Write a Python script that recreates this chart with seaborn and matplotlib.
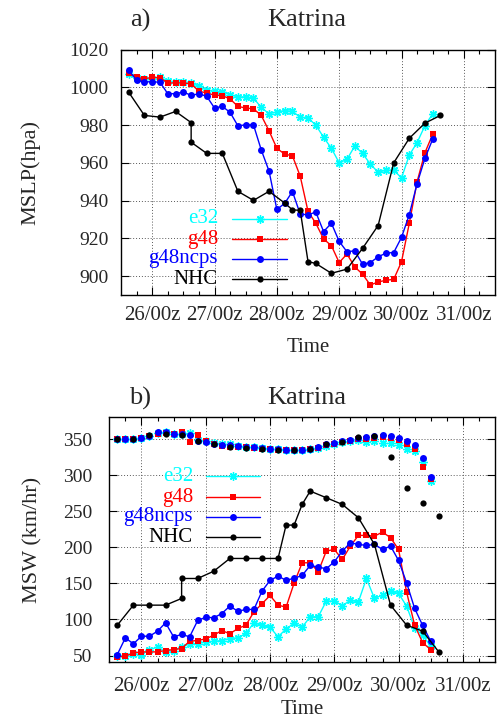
import numpy as np
import pandas as pd
import matplotlib
matplotlib.use("Agg")
import matplotlib.pyplot as plt
import seaborn as sns

# ---------------- data (hours relative to 26/00z) ----------------
model_hours = list(range(-9, 111, 3))            # 25/15z .. 30/12z, 3-hourly (40 points)
nhc_hours = [-9, -3, 3, 9, 15, 15, 21, 27, 33, 39, 45, 51, 54, 57, 60, 63,
             69, 75, 81, 87, 93, 99, 105, 111]
nhc_dot_hours = list(range(-9, 114, 6))          # 6-hourly points (21 points)

tick_hours = [0, 24, 48, 72, 96, 120]
tick_labels = ["26/00z", "27/00z", "28/00z", "29/00z", "30/00z", "31/00z"]

# MSLP (hPa)
e32_mslp = [1007, 1005, 1004.5, 1004.5, 1005.3, 1003.2, 1003, 1003, 1002.3, 1000.5,
            998.4, 997.9, 997.5, 996.1, 994.9, 994.9, 994.3, 989.3, 986, 986.9,
            987.7, 987.2, 984.2, 983.7, 980, 973.5, 967.7, 960, 961.8, 968.9,
            965, 959.3, 955, 956.1, 956.1, 952, 964.1, 970.7, 979.6, 986]
g48_mslp = [1007.7, 1005.3, 1004.5, 1005.3, 1005, 1002.3, 1002.3, 1002.3, 1001.8, 997.9,
            997, 995.8, 995.6, 993.8, 989.9, 989, 988.6, 985.1, 976.9, 967.7,
            964.6, 963.7, 952.9, 934.3, 928, 919.7, 916.1, 907.2, 911.7, 904.9,
            901, 895.3, 896.9, 897.8, 898.3, 907.6, 928, 950, 965.3, 975.1]
g48ncps_mslp = [1008.9, 1003.7, 1002.9, 1002.9, 1002.7, 996.6, 996.6, 997.5, 995.7, 996.6,
                995.2, 989, 989.9, 986.7, 979.6, 980.1, 980.1, 966.8, 955.6, 935.3,
                938.5, 944.8, 932.8, 932.5, 933.9, 923.6, 928, 918.4, 912.9, 913.4,
                906.3, 907.2, 910.2, 912.2, 912.5, 920.5, 932.6, 949, 962.3, 972.5]
nhc_mslp = [997.3, 985.1, 984.2, 987.2, 981.3, 970.9, 965, 965, 944.9, 940.1,
            944.9, 938.7, 935.1, 934.8, 907.7, 906.7, 901.5, 903.7, 914.7, 926.8,
            960, 973, 981, 985.1]

# MSW (km/hr) - lines
e32_msw = [50, 50, 52.7, 51, 58.3, 61.6, 55.5, 56.9, 62, 66.2,
           66.6, 69, 69.5, 70.8, 73.6, 74.5, 80.6, 95.4, 91.7, 89.3,
           76, 86.8, 94.9, 89.3, 103.7, 103.7, 125.5, 125.5, 119.4, 126.4,
           124.5, 156.9, 129.2, 133.8, 139.3, 136.1, 118.5, 88.4, 77.8, 62.9]
g48_msw = [48.2, 49, 53.7, 55, 55, 55, 56.9, 58.3, 59.7, 69.9,
           70.8, 73.1, 78.2, 84.7, 80.1, 87.5, 92.1, 110.6, 121.8, 133.3,
           119.9, 117.1, 150.5, 178.7, 178.7, 166.2, 194.9, 197.2, 183.3, 201.9,
           216.7, 216.7, 215.7, 221.3, 213.5, 197.2, 137.9, 92.1, 67.6, 58.3]
g48ncps_msw = [51.4, 74.5, 66.2, 76.8, 76.8, 83.8, 95.4, 76, 79.2, 76,
               98.6, 103.2, 102.3, 108.3, 118.5, 111.5, 113.9, 113.9, 139.3, 154.2,
               160.2, 154.4, 157.2, 161.1, 175, 172.7, 170.4, 180.1, 194.9, 206.5,
               204.2, 202.8, 204.2, 197.2, 201.9, 181.9, 150.9, 115.3, 91.7, 69.9]
nhc_msw = [92.1, 119.9, 119.9, 119.9, 129.2, 156.9, 156.9, 167, 184.7, 184.7,
           184.7, 184.7, 231, 231, 259.7, 278.2, 269, 259.7, 241.2, 204.2,
           119.9, 92.1, 83.8, 55]

# upper point-only series in panel b
e32_pts = [351, 351, 351, 352, 355, 359, 360, 358, 357, 359,
           349, 348, 345, 344, 344, 341, 339, 339, 338, 337,
           336, 335, 335, 335, 336, 338, 341, 343, 346, 348,
           349, 347, 347.6, 345.4, 345.4, 341.7, 337, 333.8, 318, 292.7]
g48_pts = [350, 351, 351, 352, 355, 358, 359, 357, 360, 346,
           355.6, 348, 344, 341, 340, 340, 339, 338, 337, 336,
           335, 334.7, 334.7, 335, 336, 338, 342, 344, 346, 348,
           350, 351, 352, 353, 352, 349, 343, 337, 311.6, 295]
g48ncps_pts = [351, 351, 351, 352, 355, 360, 360, 358, 358, 356,
               348, 347, 344, 342, 342, 341, 340, 339, 338, 337,
               336, 335, 335, 335, 337, 339, 343, 345, 347.5, 349.5,
               351.5, 353, 354.6, 356, 354.6, 351.4, 347.6, 341.7, 324.5, 297.7]
nhc_pts = [351, 351, 355.5, 358, 356, 348, 343, 340, 338, 337,
           335, 335, 337, 344, 347, 353, 354.6, 326, 282, 262, 244]

names = ["e32", "g48", "g48ncps", "NHC"]
colors = {"e32": "#00ffff", "g48": "#ff0000", "g48ncps": "#0000ff", "NHC": "#000000"}
STAR = (8, 2, 0)
markers = {"e32": STAR, "g48": "s", "g48ncps": "o", "NHC": "o"}
msizes = {"e32": 6, "g48": 5, "g48ncps": 5, "NHC": 4.5}

# ---------------- style ----------------
sns.set_style("ticks")
plt.rcParams["font.family"] = ["Liberation Serif", "DejaVu Serif"]
plt.rcParams["axes.linewidth"] = 1.0
FS = 14

fig = plt.figure(figsize=(4.97, 7.25), dpi=100)
ax1 = fig.add_axes([0.2435, 0.5931, 0.7525, 0.3386])
ax2 = fig.add_axes([0.2199, 0.0869, 0.7761, 0.3379])


def draw_line(ax, x, y, name):
    c = colors[name]
    m = markers[name]
    kw = dict(marker=m, markersize=msizes[name], color=c, linewidth=1.0,
              markeredgecolor=c, markerfacecolor=c)
    kw["markeredgewidth"] = 1.0 if m == STAR else 0
    sns.lineplot(x=x, y=y, ax=ax, estimator=None, sort=False, **kw)


def draw_pts(ax, x, y, name):
    c = colors[name]
    m = markers[name]
    kw = dict(marker=m, markersize=msizes[name], color=c, linestyle="none",
              markeredgecolor=c, markerfacecolor=c)
    kw["markeredgewidth"] = 1.0 if m == STAR else 0
    sns.lineplot(x=x, y=y, ax=ax, estimator=None, sort=False, **kw)


def style_axes(ax, yticks, ylim, xpad, ypad, xlabpad):
    ax.set_xlim(-12, 132)
    ax.set_ylim(*ylim)
    ax.set_xticks(tick_hours)
    ax.set_xticklabels(tick_labels, fontsize=FS + 1)
    ax.set_xticks(np.arange(-6, 132, 6), minor=True)
    ax.set_yticks(yticks)
    ax.tick_params(axis="y", labelsize=FS)
    ax.tick_params(which="both", direction="in", top=True, right=True, color="black")
    ax.tick_params(which="major", length=6, width=0.8)
    ax.tick_params(which="minor", length=3, width=0.8)
    ax.tick_params(axis="x", pad=xpad)
    ax.tick_params(axis="y", pad=ypad)
    ax.grid(True, which="major", linestyle=(0, (1, 2)), color="0.35", linewidth=0.7)
    for s in ax.spines.values():
        s.set_visible(True)
        s.set_color("black")
    ax.set_xlabel("Time", fontsize=FS + 1, labelpad=xlabpad)


def legend(ax, xt, xl0, xl1, ys):
    for name, yy in zip(names, ys):
        c = colors[name]
        ax.text(xt, yy, name, transform=ax.transAxes, ha="right", va="center",
                color=c, fontsize=FS + 1)
        ax.plot([xl0, xl1], [yy, yy], transform=ax.transAxes, color=c, lw=1.0)
        m = markers[name]
        ax.plot([(xl0 + xl1) / 2], [yy], transform=ax.transAxes, marker=m,
                markersize=msizes[name], color=c, markeredgecolor=c,
                markeredgewidth=(1.0 if m == STAR else 0), linestyle="none")


# panel a
draw_line(ax1, model_hours, e32_mslp, "e32")
draw_line(ax1, model_hours, g48_mslp, "g48")
draw_line(ax1, model_hours, g48ncps_mslp, "g48ncps")
draw_line(ax1, nhc_hours, nhc_mslp, "NHC")
style_axes(ax1, np.arange(900, 1021, 20), (890, 1020), 8, 9, 9)
ax1.set_ylabel("MSLP(hpa)", fontsize=FS + 2, labelpad=21)
legend(ax1, 0.259, 0.297, 0.444, [0.310, 0.228, 0.147, 0.065])

# panel b
draw_pts(ax2, model_hours, e32_pts, "e32")
draw_pts(ax2, model_hours, g48_pts, "g48")
draw_pts(ax2, model_hours, g48ncps_pts, "g48ncps")
draw_pts(ax2, nhc_dot_hours, nhc_pts, "NHC")
draw_line(ax2, model_hours, e32_msw, "e32")
draw_line(ax2, model_hours, g48_msw, "g48")
draw_line(ax2, model_hours, g48ncps_msw, "g48ncps")
draw_line(ax2, nhc_hours, nhc_msw, "NHC")
style_axes(ax2, np.arange(50, 351, 50), (41, 381), 11, 12, 3)
ax2.set_ylabel("MSW (km/hr)", fontsize=FS + 2, labelpad=15)
legend(ax2, 0.217, 0.251, 0.391, [0.759, 0.673, 0.592, 0.510])

# titles
fig.text(0.282, 0.972, "a)", ha="center", va="center", fontsize=19)
fig.text(0.618, 0.972, "Katrina", ha="center", va="center", fontsize=19)
fig.text(0.282, 0.451, "b)", ha="center", va="center", fontsize=19)
fig.text(0.618, 0.451, "Katrina", ha="center", va="center", fontsize=19)

fig.savefig("out.png", dpi=100)
